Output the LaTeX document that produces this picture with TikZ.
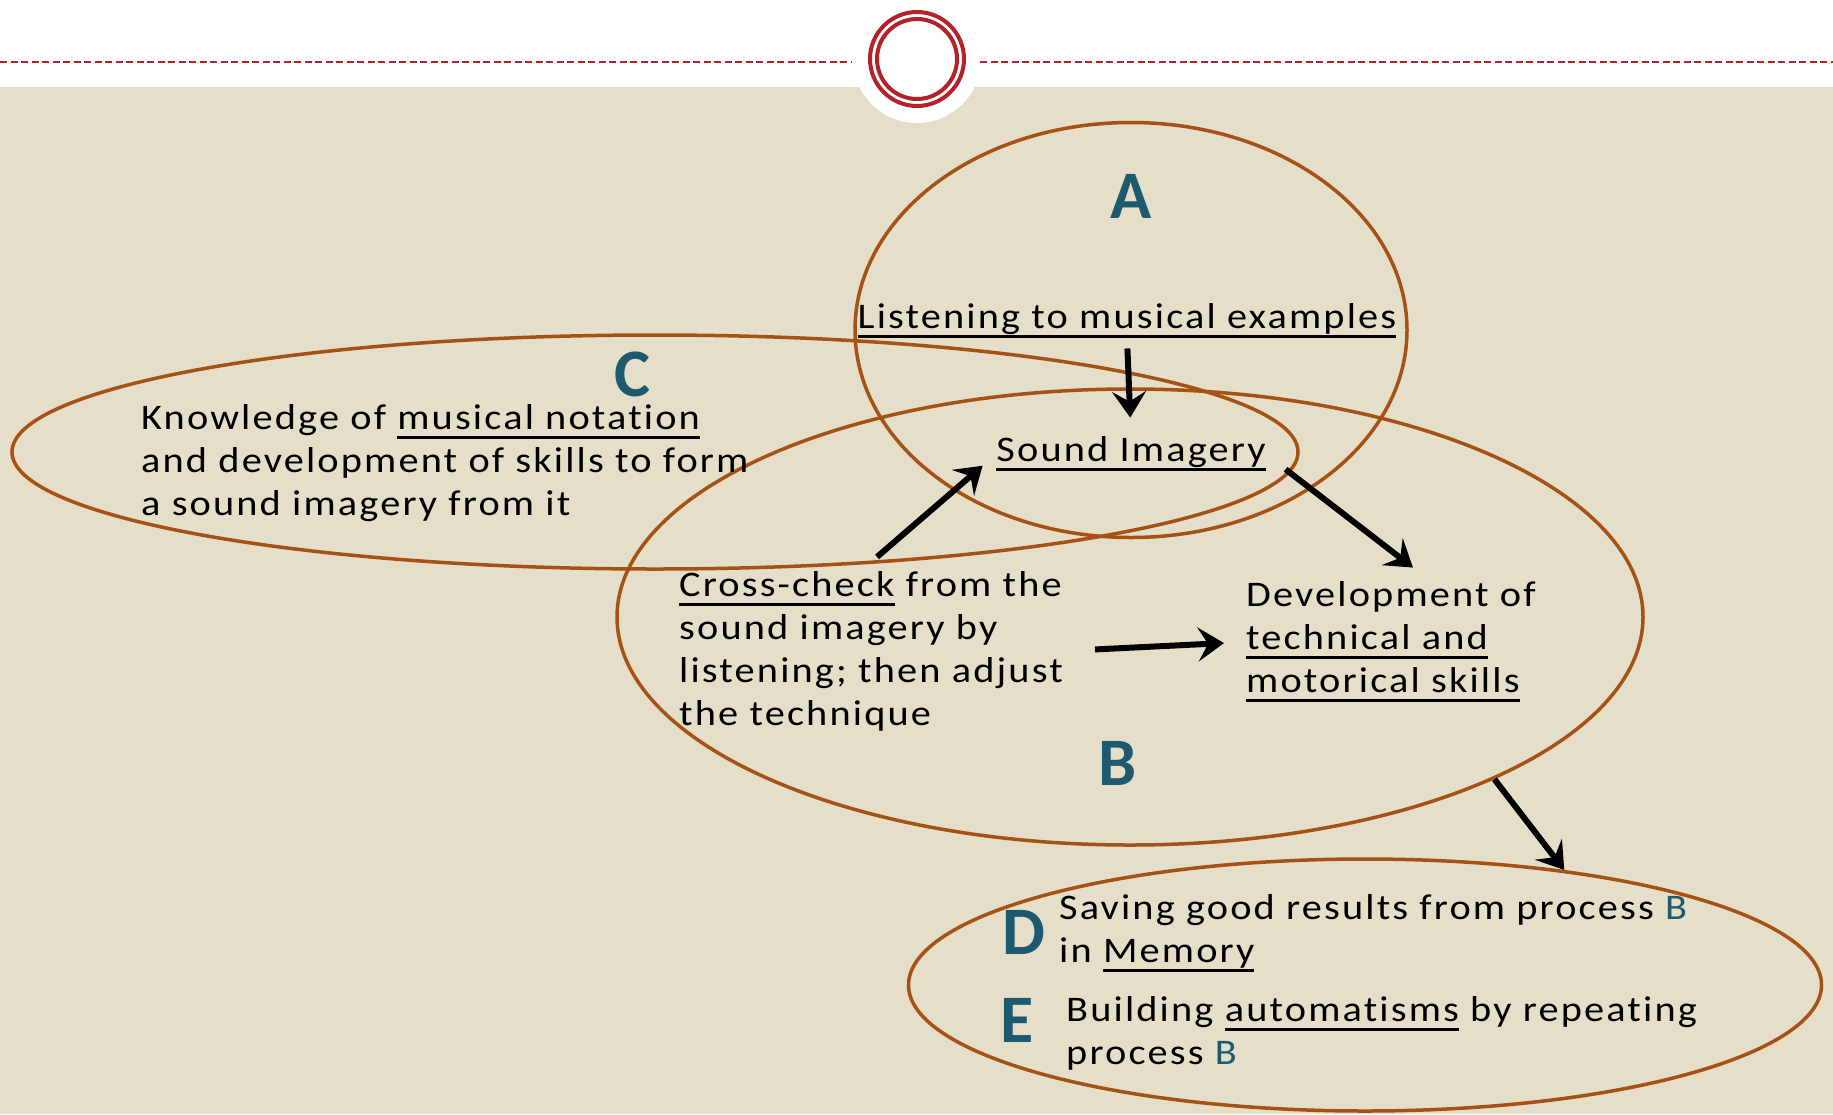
\documentclass[tikz,border=0pt]{standalone}
\usepackage{fontspec}
\setmainfont{Carlito}
\newfontfamily\bodyfont[FakeStretch=1.12,LetterSpace=6,Ligatures=NoCommon]{Carlito}
\usetikzlibrary{shapes.geometric, arrows.meta}

\definecolor{bgbeige}{RGB}{229,222,201}
\definecolor{ringred}{RGB}{178,34,40}
\definecolor{ovalbrown}{RGB}{165,82,20}
\definecolor{letterteal}{RGB}{30,90,110}

\newcommand{\ulbar}[1]{\leavevmode\setbox0\hbox{#1}\rlap{\rule[-9.5pt]{\wd0}{3pt}}\box0\relax}
\newcommand{\procB}{{\color{letterteal}B}}

\tikzset{
  oval/.style={draw=ovalbrown, line width=3.5pt, ellipse, inner sep=0pt},
  bigletter/.style={text=letterteal, font=\fontsize{68}{68}\selectfont\bfseries, inner sep=0pt},
  body/.style={align=left, font=\fontsize{36}{43}\bodyfont, inner sep=0pt, anchor=west},
  arr/.style={-{Stealth[length=26pt,width=34pt,inset=10pt]}, line width=6pt},
}

\begin{document}
\begin{tikzpicture}[x=1pt, y=-1pt]
  \useasboundingbox (0,0) rectangle (1833,1114);
  % header band and ring
  \fill[white] (0,0) rectangle (1833,87);
  \fill[bgbeige] (0,87) rectangle (1833,1114);
  \fill[white] (917,59) circle (64);
  \draw[ringred, line width=2pt, dash pattern=on 7pt off 3.5pt] (0,62) -- (852,62);
  \draw[ringred, line width=2pt, dash pattern=on 7pt off 3.5pt] (980,62) -- (1833,62);
  \draw[ringred, line width=4pt] (917,59) circle (47);
  \draw[ringred, line width=4pt] (917,59) circle (40);

  % ovals
  \node[oval, minimum width=552pt, minimum height=415pt] (ovalA) at (1131,330) {};
  \node[oval, minimum width=1286pt, minimum height=234pt] (ovalC) at (655,452) {};
  \node[oval, minimum width=1026pt, minimum height=456pt] (ovalB) at (1130,617) {};
  \node[oval, minimum width=913pt, minimum height=252pt] (ovalDE) at (1365,985) {};

  % letters
  \node[bigletter] (letA) at (1131,196) {A};
  \node[bigletter] (letC) at (632,374) {C};
  \node[bigletter] (letB) at (1118,763) {B};
  \node[bigletter] (letD) at (1024,932) {D};
  \node[bigletter] (letE) at (1017,1020) {E};

  % texts
  \node[body, anchor=center] (listen) at (1127,321) {\ulbar{Listening to musical examples}};
  \node[body, anchor=center] (sound) at (1131,454) {\ulbar{Sound Imagery}};
  \node[body] (know) at (141,463) {Knowledge of \ulbar{musical notation}\\
    and development of skills to form\\ a sound imagery from it};
  \node[body] (cross) at (679,651) {\ulbar{Cross-check} from the\\ sound imagery by\\
    listening; then adjust\\ the technique};
  \node[body] (dev) at (1246,642) {Development of\\ \ulbar{technical and}\\ \ulbar{motorical skills}};
  \node[body] (save) at (1059,933) {Saving good results from process \procB\\ in \ulbar{Memory}};
  \node[body] (build) at (1066,1033) {Building \ulbar{automatisms} by repeating\\ process \procB};

  % arrows
  \draw[arr, shorten <=10pt, shorten >=19pt] (listen.south) -- (sound.north);
  \draw[arr, shorten >=18pt] ([shift={(6,-14)}]cross.north) -- (sound.west);
  \draw[arr, shorten <=25pt] (sound.east) -- ([shift={(22,-14)}]dev.north);
  \draw[arr, shorten <=32pt, shorten >=22pt] (cross.east) -- (dev.west);
  \draw[arr] (ovalB.-24.5) -- (ovalDE.30);
\end{tikzpicture}
\end{document}
